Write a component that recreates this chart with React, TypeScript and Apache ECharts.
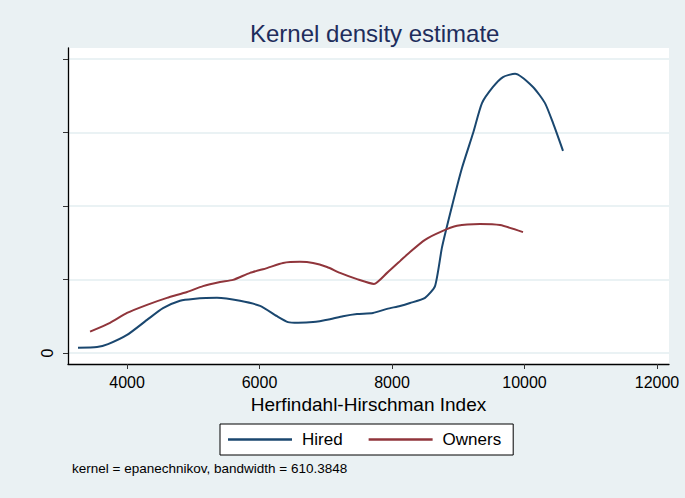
import React, { useEffect, useRef } from "react";
import * as echarts from "echarts";

// Density values expressed in units of y-axis ticks (only 0 is labeled)
const hiredX = [3260, 3547, 3713, 4000, 4302, 4543, 4800, 4996, 5358, 5706, 6008, 6264, 6430, 6581, 6808, 7064, 7260, 7472, 7713, 7925, 8121, 8272, 8498, 8649, 8755, 8906, 9057, 9223, 9358, 9524, 9675, 9857, 10128, 10309, 10430, 10581];
const hiredY = [0.07, 0.08, 0.12, 0.245, 0.45, 0.61, 0.71, 0.735, 0.75, 0.71, 0.64, 0.5, 0.42, 0.41, 0.42, 0.46, 0.5, 0.53, 0.545, 0.6, 0.64, 0.68, 0.75, 0.91, 1.44, 2.0, 2.52, 2.99, 3.4, 3.62, 3.755, 3.8, 3.62, 3.4, 3.13, 2.75];

const ownersX = [3442, 3743, 4000, 4302, 4604, 4906, 5147, 5404, 5600, 5857, 6113, 6355, 6611, 6808, 7019, 7215, 7472, 7728, 7925, 8121, 8272, 8498, 8725, 8981, 9328, 9630, 9977];
const ownersY = [0.29, 0.41, 0.545, 0.655, 0.75, 0.83, 0.91, 0.965, 0.995, 1.09, 1.155, 1.225, 1.24, 1.225, 1.17, 1.09, 1.005, 0.94, 1.09, 1.25, 1.375, 1.54, 1.645, 1.73, 1.755, 1.74, 1.645];

const xTicks = [4000, 6000, 8000, 10000, 12000];
const yTicks = [0, 1, 2, 3, 4];
const yLabels = [0];

const FONT = "Liberation Sans, Arial, Helvetica, sans-serif";

export default function App() {
  const ref = useRef<HTMLDivElement>(null);
  useEffect(() => {
    if (!ref.current) return;
    const chart = echarts.init(ref.current, null, { renderer: "svg" });
    const pair = (xs: number[], ys: number[]) => xs.map((x, i) => [x, ys[i]]);
    chart.setOption({
      animation: false,
      backgroundColor: "#eaf1f3",
      textStyle: { fontFamily: FONT },
      title: {
        text: "Kernel density estimate",
        left: 245,
        top: 16,
        textStyle: { color: "#1e2d5c", fontSize: 24, fontWeight: "normal", fontFamily: FONT },
      },
      grid: {
        left: 68,
        right: 16,
        top: 48,
        bottom: 134,
        show: true,
        backgroundColor: "#ffffff",
        borderWidth: 0,
      },
      xAxis: {
        type: "value",
        min: 3109,
        max: 12181,
        name: "Herfindahl-Hirschman Index",
        nameLocation: "middle",
        nameGap: 31,
        nameTextStyle: { color: "#000", fontSize: 19, fontFamily: FONT },
        axisLine: { show: true, onZero: false, lineStyle: { color: "#000", width: 1.3 } },
        axisTick: { show: true, length: 5, lineStyle: { color: "#333" }, customValues: xTicks },
        axisLabel: {
          color: "#000",
          fontSize: 16,
          margin: 10,
          customValues: xTicks,
          fontFamily: FONT,
          formatter: (v: number) => String(v),
        },
        splitLine: { show: false },
      },
      yAxis: {
        type: "value",
        min: -0.15,
        max: 4.15,
        axisLine: { show: true, onZero: false, lineStyle: { color: "#000", width: 1.3 } },
        axisTick: { show: true, length: 5, lineStyle: { color: "#333" }, customValues: yTicks },
        axisLabel: {
          color: "#000",
          fontSize: 16,
          rotate: 90,
          margin: 13,
          customValues: yLabels,
          fontFamily: FONT,
          formatter: (v: number) => String(v),
        },
        splitLine: { show: true, lineStyle: { color: "#e3eef1", width: 1.5 } },
      },
      legend: {
        left: 220,
        top: 424,
        orient: "horizontal",
        backgroundColor: "#ffffff",
        borderColor: "#000",
        borderWidth: 1,
        borderRadius: 0,
        padding: [7, 12, 7, 8],
        itemWidth: 64,
        itemHeight: 2.5,
        itemGap: 26,
        icon: "rect",
        textStyle: { color: "#000", fontSize: 17, padding: [0, 0, 0, 5], fontFamily: FONT },
        data: ["Hired", "Owners"],
      },
      graphic: [
        {
          type: "text",
          left: 72,
          top: 461,
          style: {
            text: "kernel = epanechnikov, bandwidth = 610.3848",
            fill: "#000",
            fontSize: 13.5,
            fontFamily: FONT,
          },
        },
      ],
      series: [
        {
          name: "Hired",
          type: "line",
          data: pair(hiredX, hiredY),
          showSymbol: false,
          smooth: 0.2,
          lineStyle: { color: "#1a476f", width: 2 },
          itemStyle: { color: "#1a476f" },
        },
        {
          name: "Owners",
          type: "line",
          data: pair(ownersX, ownersY),
          showSymbol: false,
          smooth: 0.2,
          lineStyle: { color: "#90353b", width: 2 },
          itemStyle: { color: "#90353b" },
        },
      ],
    });
    return () => chart.dispose();
  }, []);
  return <div ref={ref} style={{ width: 685, height: 498, position: "absolute", left: 0, top: 0 }} />;
}
